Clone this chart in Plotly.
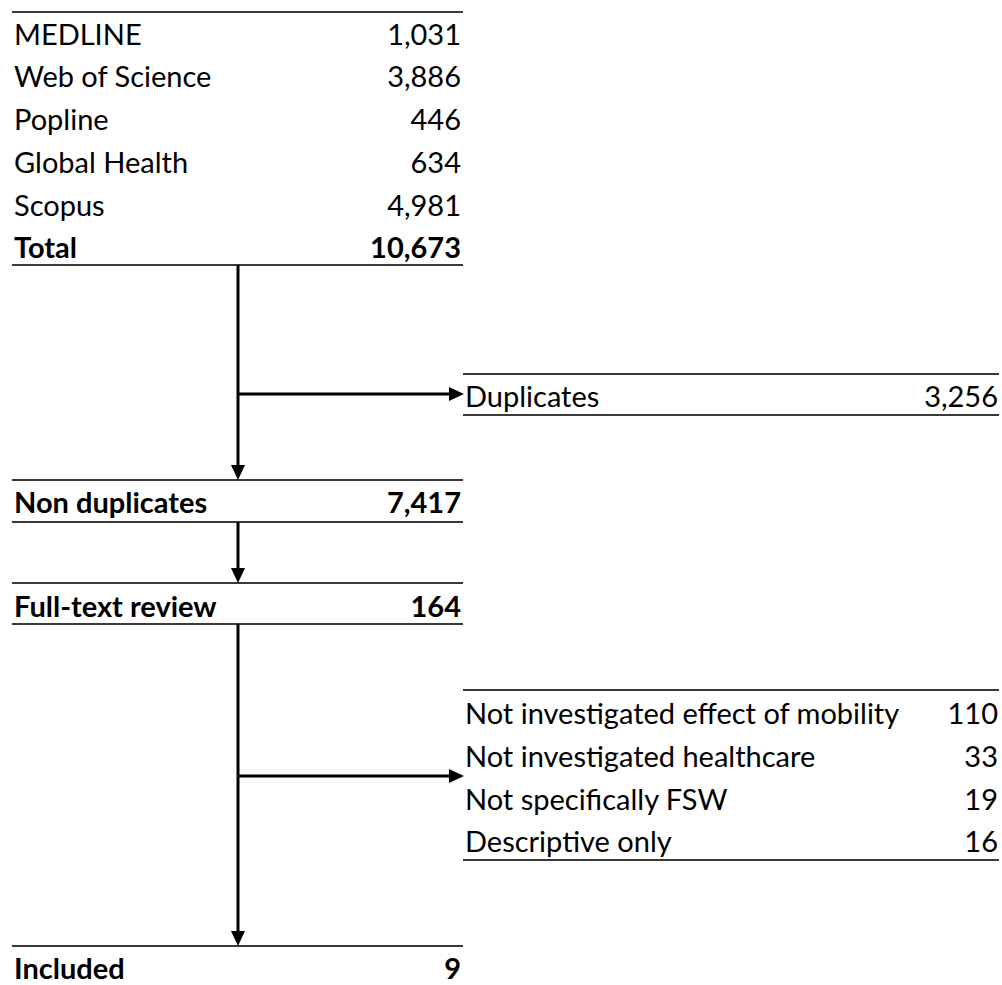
import plotly.graph_objects as go

# ---- data ----
sources = ["MEDLINE", "Web of Science", "Popline", "Global Health", "Scopus"]
source_counts = [1031, 3886, 446, 634, 4981]
total_label = "Total"
total_count = 10673
dup_label = "Duplicates"
dup_count = 3256
nondup_label = "Non duplicates"
nondup_count = 7417
fulltext_label = "Full-text review"
fulltext_count = 164
excl_labels = ["Not investigated effect of mobility", "Not investigated healthcare",
               "Not specifically FSW", "Descriptive only"]
excl_counts = [110, 33, 19, 16]
incl_label = "Included"
incl_count = 9

# ---- layout constants (pixel space) ----
W, H = 1002, 985
FONT = "Lato"
FS = 29
LX0, LX1 = 12, 463          # left column box
RX0, RX1 = 463, 999         # right column box
AX = 238                    # vertical arrow x
DY = 3                      # baseline compensation
src_rows = [35, 77, 120, 163, 206]
total_row = 248
dup_row = 397
nondup_row = 503
fulltext_row = 607
excl_rows = [714, 757, 800, 842]
incl_row = 969

fig = go.Figure()

def fmt(v):
    return f"{v:,}"

def add_rows(x_left, x_right, labels, values, ys, bold=False):
    w = "bold" if bold else "normal"
    yy = [y + DY for y in ys]
    fig.add_trace(go.Scatter(x=[x_left] * len(labels), y=yy, text=labels, mode="text",
                             textposition="middle right",
                             textfont=dict(family=FONT, size=FS, color="black", weight=w),
                             hoverinfo="skip", showlegend=False))
    fig.add_trace(go.Scatter(x=[x_right] * len(values), y=yy, text=[fmt(v) for v in values],
                             mode="text", textposition="middle left",
                             textfont=dict(family=FONT, size=FS, color="black", weight=w),
                             hoverinfo="skip", showlegend=False))

add_rows(LX0 + 2, LX1 - 2, sources, source_counts, src_rows)
add_rows(LX0 + 2, LX1 - 2, [total_label], [total_count], [total_row], bold=True)
add_rows(RX0 + 2, RX1 - 1, [dup_label], [dup_count], [dup_row])
add_rows(LX0 + 2, LX1 - 2, [nondup_label], [nondup_count], [nondup_row], bold=True)
add_rows(LX0 + 2, LX1 - 2, [fulltext_label], [fulltext_count], [fulltext_row], bold=True)
add_rows(RX0 + 2, RX1 - 1, excl_labels, excl_counts, excl_rows)
add_rows(LX0 + 2, LX1 - 2, [incl_label], [incl_count], [incl_row], bold=True)

shapes = []
def hline(x0, x1, y):
    shapes.append(dict(type="line", xref="x", yref="y", x0=x0, x1=x1, y0=y, y1=y,
                       line=dict(color="#3a3a3a", width=2)))

def arrow_line(x0, y0, x1, y1):
    shapes.append(dict(type="line", xref="x", yref="y", x0=x0, x1=x1, y0=y0, y1=y1,
                       line=dict(color="black", width=3)))

def head_down(x, y):
    shapes.append(dict(type="path", xref="x", yref="y",
                       path=f"M {x-7},{y-15} L {x+7},{y-15} L {x},{y} Z",
                       fillcolor="black", line=dict(color="black", width=0)))

def head_right(x, y):
    shapes.append(dict(type="path", xref="x", yref="y",
                       path=f"M {x-15},{y-7} L {x-15},{y+7} L {x},{y} Z",
                       fillcolor="black", line=dict(color="black", width=0)))

# table rules
hline(LX0, LX1, 12); hline(LX0, LX1, 265)
hline(RX0, RX1, 374); hline(RX0, RX1, 415)
hline(LX0, LX1, 480); hline(LX0, LX1, 522)
hline(LX0, LX1, 583); hline(LX0, LX1, 624)
hline(RX0, RX1, 690); hline(RX0, RX1, 860)
hline(LX0, LX1, 946)

# arrows
arrow_line(AX, 265, AX, 466); head_down(AX, 480)
arrow_line(AX, 394, RX0 - 12, 394); head_right(RX0 + 1, 394)
arrow_line(AX, 522, AX, 570); head_down(AX, 583)
arrow_line(AX, 624, AX, 933); head_down(AX, 946)
arrow_line(AX, 776, RX0 - 12, 776); head_right(RX0 + 1, 776)

fig.update_layout(
    width=W, height=H, margin=dict(l=0, r=0, t=0, b=0),
    paper_bgcolor="white", plot_bgcolor="white",
    xaxis=dict(range=[0, W], visible=False, fixedrange=True),
    yaxis=dict(range=[H, 0], visible=False, fixedrange=True),
    shapes=shapes, showlegend=False,
)

fig.write_html("out.html", config={"displayModeBar": False},
               post_script="document.body.style.margin='0';")
